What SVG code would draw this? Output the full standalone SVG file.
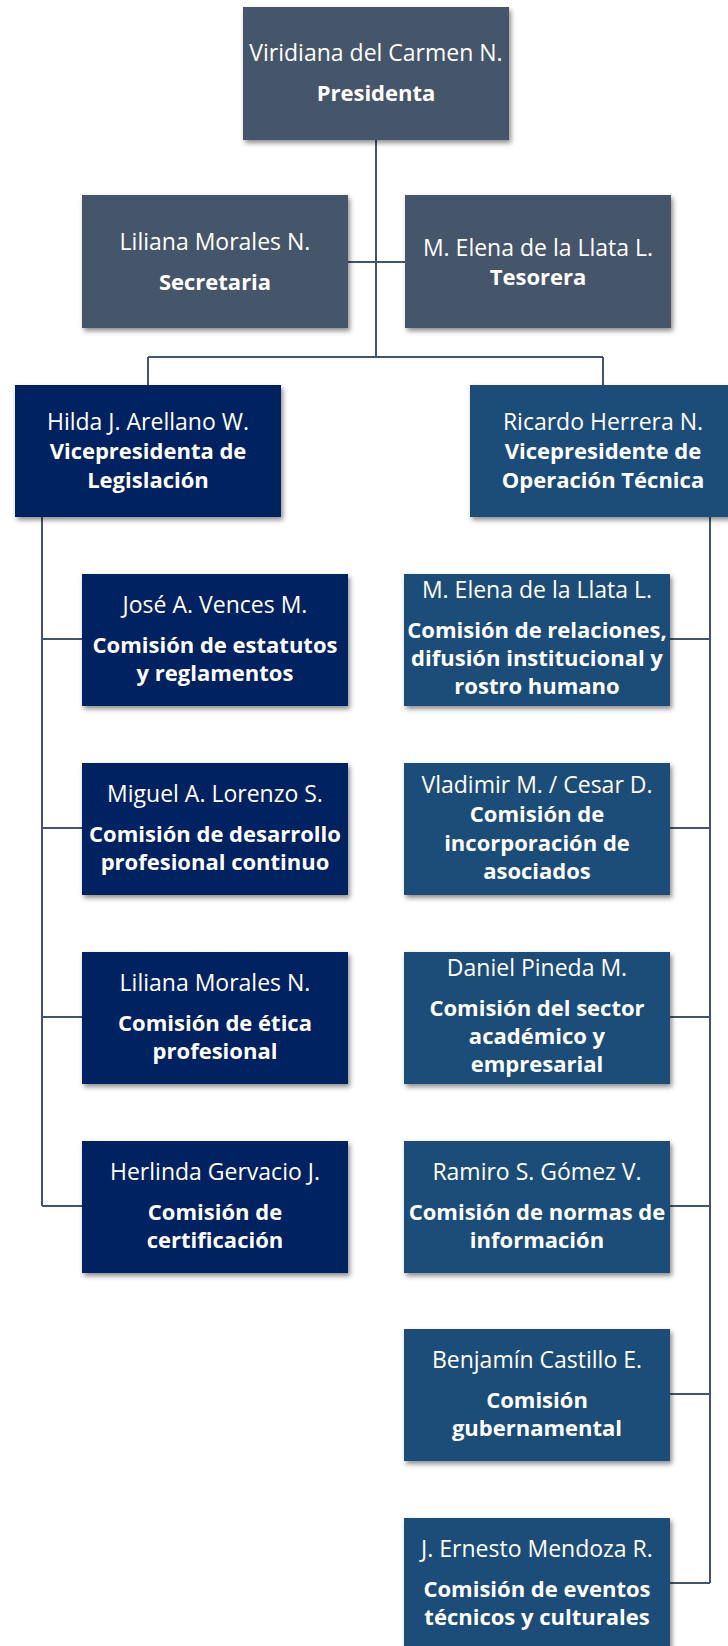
<svg xmlns="http://www.w3.org/2000/svg" width="728" height="1646" viewBox="0 0 728 1646">
<defs>
<filter id="sh" x="-10%" y="-10%" width="125%" height="130%">
<feDropShadow dx="2" dy="3" stdDeviation="2.5" flood-color="#000" flood-opacity="0.45"/>
</filter>
<style>
.top{fill:#44546A;filter:url(#sh)}
.lft{fill:#002060;filter:url(#sh)}
.rgt{fill:#1F4E79;filter:url(#sh)}
text{font-family:"Open Sans","Liberation Sans",sans-serif;fill:#fff;text-anchor:middle}
.n{font-size:23px}
.b{font-size:22px;font-weight:bold}
.ln{stroke:#44546A;stroke-width:2;fill:none}
</style>
</defs>
<rect width="728" height="1646" fill="#fff"/>
<g id="connectors">
<path class="ln" d="M376 140V357M348 262H405M148 357H603M148 357V385M603 357V385"/>
<path class="ln" d="M42 517V1206M42 639H82M42 828H82M42 1017H82M42 1206H82"/>
<path class="ln" d="M710 517V1583M670 639H710M670 828H710M670 1017H710M670 1206H710M670 1394H710M670 1583H710"/>
</g>
<g id="presidenta">
<rect class="top" x="243" y="7" width="266" height="133"/>
<text class="n" x="376" y="61">Viridiana del Carmen N.</text>
<text class="b" x="376" y="101">Presidenta</text>
</g>
<g id="secretaria">
<rect class="top" x="82" y="195" width="266" height="133"/>
<text class="n" x="215" y="250">Liliana Morales N.</text>
<text class="b" x="215" y="290">Secretaria</text>
</g>
<g id="tesorera">
<rect class="top" x="405" y="195" width="266" height="133"/>
<text class="n" x="538" y="256">M. Elena de la Llata L.</text>
<text class="b" x="538" y="285">Tesorera</text>
</g>
<g id="vp-legislacion">
<rect class="lft" x="15" y="385" width="266" height="132"/>
<text class="n" x="148" y="430">Hilda J. Arellano W.</text>
<text class="b" x="148" y="459">Vicepresidenta de</text>
<text class="b" x="148" y="488">Legislación</text>
</g>
<g id="vp-operacion">
<rect class="rgt" x="470" y="385" width="266" height="132"/>
<text class="n" x="603" y="430">Ricardo Herrera N.</text>
<text class="b" x="603" y="459">Vicepresidente de</text>
<text class="b" x="603" y="488">Operación Técnica</text>
</g>
<g id="estatutos">
<rect class="lft" x="82" y="574" width="266" height="132"/>
<text class="n" x="215" y="613">José A. Vences M.</text>
<text class="b" x="215" y="653">Comisión de estatutos</text>
<text class="b" x="215" y="681">y reglamentos</text>
</g>
<g id="desarrollo">
<rect class="lft" x="82" y="763" width="266" height="132"/>
<text class="n" x="215" y="802">Miguel A. Lorenzo S.</text>
<text class="b" x="215" y="842">Comisión de desarrollo</text>
<text class="b" x="215" y="870">profesional continuo</text>
</g>
<g id="etica">
<rect class="lft" x="82" y="952" width="266" height="132"/>
<text class="n" x="215" y="991">Liliana Morales N.</text>
<text class="b" x="215" y="1031">Comisión de ética</text>
<text class="b" x="215" y="1059">profesional</text>
</g>
<g id="certificacion">
<rect class="lft" x="82" y="1141" width="266" height="132"/>
<text class="n" x="215" y="1180">Herlinda Gervacio J.</text>
<text class="b" x="215" y="1220">Comisión de</text>
<text class="b" x="215" y="1248">certificación</text>
</g>
<g id="relaciones">
<rect class="rgt" x="404" y="574" width="266" height="132"/>
<text class="n" x="537" y="598">M. Elena de la Llata L.</text>
<text class="b" x="537" y="638">Comisión de relaciones,</text>
<text class="b" x="537" y="666">difusión institucional y</text>
<text class="b" x="537" y="694">rostro humano</text>
</g>
<g id="incorporacion">
<rect class="rgt" x="404" y="763" width="266" height="132"/>
<text class="n" x="537" y="793">Vladimir M. / Cesar D.</text>
<text class="b" x="537" y="822">Comisión de</text>
<text class="b" x="537" y="851">incorporación de</text>
<text class="b" x="537" y="879">asociados</text>
</g>
<g id="sector">
<rect class="rgt" x="404" y="952" width="266" height="132"/>
<text class="n" x="537" y="976">Daniel Pineda M.</text>
<text class="b" x="537" y="1016">Comisión del sector</text>
<text class="b" x="537" y="1044">académico y</text>
<text class="b" x="537" y="1072">empresarial</text>
</g>
<g id="normas">
<rect class="rgt" x="404" y="1141" width="266" height="132"/>
<text class="n" x="537" y="1180">Ramiro S. Gómez V.</text>
<text class="b" x="537" y="1220">Comisión de normas de</text>
<text class="b" x="537" y="1248">información</text>
</g>
<g id="gubernamental">
<rect class="rgt" x="404" y="1329" width="266" height="132"/>
<text class="n" x="537" y="1368">Benjamín Castillo E.</text>
<text class="b" x="537" y="1408">Comisión</text>
<text class="b" x="537" y="1436">gubernamental</text>
</g>
<g id="eventos">
<rect class="rgt" x="404" y="1518" width="266" height="132"/>
<text class="n" x="537" y="1557">J. Ernesto Mendoza R.</text>
<text class="b" x="537" y="1597">Comisión de eventos</text>
<text class="b" x="537" y="1625">técnicos y culturales</text>
</g>
</svg>
